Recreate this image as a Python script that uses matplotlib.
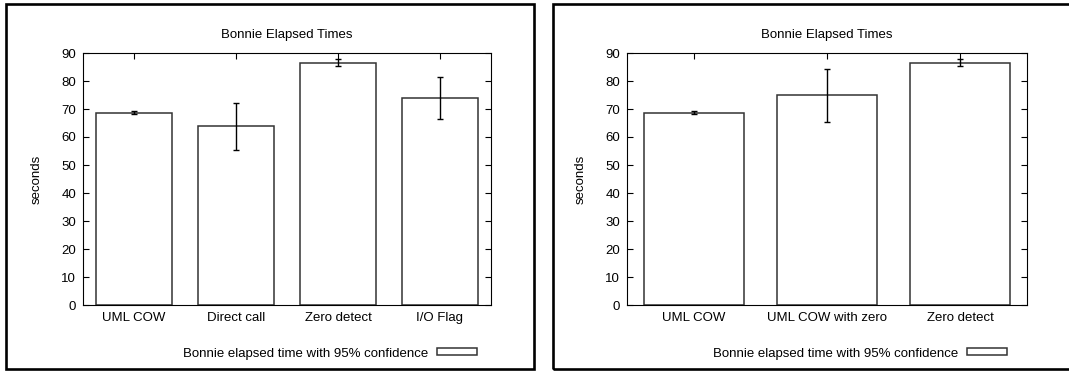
import matplotlib
matplotlib.use('Agg')
import matplotlib.pyplot as plt
from matplotlib.patches import Rectangle

plt.rcParams['font.family'] = 'Liberation Sans'

# left chart
cats_a = ['UML COW', 'Direct call', 'Zero detect', 'I/O Flag']
mean_a = [68.7, 63.8, 86.4, 74.0]
low_a = [68.2, 55.2, 85.2, 66.6]
high_a = [69.2, 72.1, 87.8, 81.3]

# right chart
cats_b = ['UML COW', 'UML COW with zero', 'Zero detect']
mean_b = [68.7, 74.9, 86.4]
low_b = [68.2, 65.4, 85.2]
high_b = [69.2, 84.2, 87.8]

yticks = list(range(0, 100, 10))
title = 'Bonnie Elapsed Times'
legend_label = 'Bonnie elapsed time with 95% confidence'

W, H = 1069, 371
fig = plt.figure(figsize=(W / 100, H / 100), dpi=100)
fs = 9.5


def px_axes(x0, x1, y0, y1):
    return fig.add_axes([x0 / W, 1 - y1 / H, (x1 - x0) / W, (y1 - y0) / H])


def draw(ax, cats, mean, low, high, leg_x):
    x = list(range(len(cats)))
    err = [[m - l for m, l in zip(mean, low)], [h - m for m, h in zip(mean, high)]]
    ax.bar(x, mean, width=0.75, color='white', edgecolor='#333333', linewidth=1.1,
           label=legend_label, zorder=2)
    ax.errorbar(x, mean, yerr=err, fmt='none', ecolor='black', elinewidth=1.0,
                capsize=2.5, capthick=1.0, zorder=3)
    ax.set_xlim(-0.5, len(cats) - 0.5)
    ax.set_ylim(0, 90)
    ax.set_yticks(yticks)
    ax.set_xticks(x)
    ax.set_xticklabels(cats)
    ax.tick_params(direction='in', length=4.5, width=0.8, labelsize=fs,
                   top=True, right=True, pad=5)
    for s in ax.spines.values():
        s.set_linewidth(0.8)
    ax.set_title(title, fontsize=fs, pad=11)
    ax.set_ylabel('seconds', fontsize=fs)
    ax.legend(loc='center right', bbox_to_anchor=(leg_x / W, 1 - 353.5 / H),
              bbox_transform=fig.transFigure, frameon=False, fontsize=fs,
              markerfirst=False, handlelength=3.0, handleheight=0.45,
              handletextpad=0.7, borderpad=0, borderaxespad=0)


ax1 = px_axes(83, 491, 53, 305)
draw(ax1, cats_a, mean_a, low_a, high_a, 477)
ax1.yaxis.set_label_coords(-40 / 408, 0.5)

ax2 = px_axes(627, 1027, 53, 305)
draw(ax2, cats_b, mean_b, low_b, high_b, 1007)
ax2.yaxis.set_label_coords(-40 / 400, 0.5)

# outer frames
for x0, x1 in [(6, 534), (553, 1075)]:
    fig.patches.append(Rectangle((x0 / W, 1 - 369 / H), (x1 - x0) / W, 365 / H,
                                 transform=fig.transFigure, fill=False,
                                 edgecolor='black', linewidth=1.9))

fig.savefig('out.png', dpi=100)
